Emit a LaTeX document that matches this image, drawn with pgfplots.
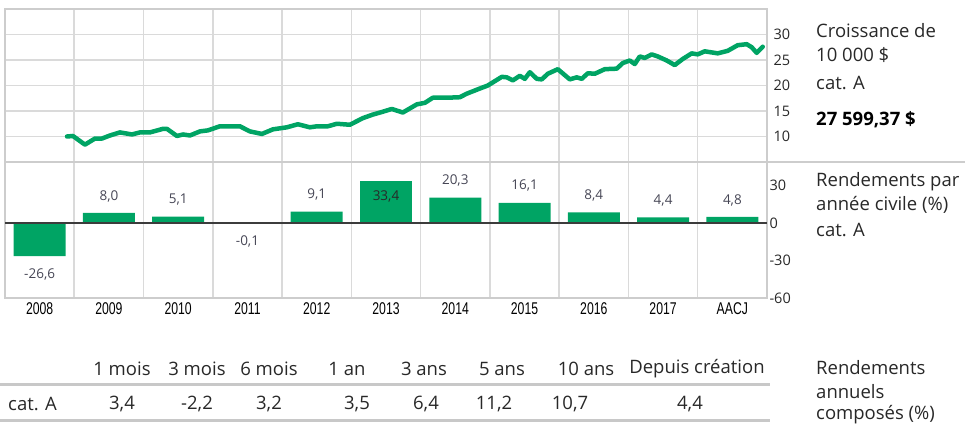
\documentclass[border=0pt]{standalone}
\usepackage{fontspec}
\usepackage{pgfplots}
\pgfplotsset{compat=1.18}
\setmainfont{Open Sans}
\newfontfamily\narrowfont[FakeStretch=0.72]{Liberation Sans}
\definecolor{ubsgreen}{RGB}{0,164,100}
\definecolor{gridgray}{RGB}{218,218,218}
\definecolor{bordergray}{RGB}{205,205,205}
\definecolor{zerogray}{RGB}{60,60,60}
\definecolor{textgray}{RGB}{40,40,40}
\definecolor{labgray}{RGB}{70,70,85}
\definecolor{linegray}{RGB}{200,200,200}
\newcommand\rfont{\fontsize{18.5}{22}\selectfont}
\newcommand\ticklab{\fontsize{14.5}{16}\selectfont}
\newcommand\barlab{\fontsize{13.5}{15}\selectfont}
\newcommand\yearlab{\narrowfont\fontsize{17}{19}\selectfont}
\pgfplotstableread{
t v
2008.895 10.0
2008.981 10.1
2009.154 8.4
2009.299 9.6
2009.400 9.6
2009.515 10.2
2009.659 10.8
2009.833 10.4
2009.948 10.8
2010.092 10.8
2010.280 11.5
2010.338 11.5
2010.482 10.1
2010.569 10.4
2010.670 10.2
2010.814 11.0
2010.929 11.2
2011.102 12.0
2011.391 12.0
2011.535 11.0
2011.709 10.5
2011.867 11.4
2012.069 11.8
2012.228 12.4
2012.401 11.8
2012.502 12.0
2012.661 12.0
2012.791 12.5
2012.978 12.3
2013.166 13.6
2013.310 14.3
2013.440 14.8
2013.584 15.4
2013.743 14.7
2013.945 16.3
2014.061 16.6
2014.176 17.6
2014.378 17.6
2014.566 17.7
2014.667 18.4
2014.854 19.4
2014.970 20.0
2015.172 21.7
2015.244 21.6
2015.331 21.0
2015.431 21.9
2015.504 21.3
2015.576 22.6
2015.677 21.3
2015.749 21.2
2015.836 22.3
2015.980 23.2
2016.153 21.2
2016.254 21.6
2016.326 21.3
2016.413 22.4
2016.514 22.3
2016.658 23.2
2016.831 23.3
2016.918 24.4
2017.019 24.9
2017.091 24.2
2017.163 25.7
2017.235 25.4
2017.336 26.1
2017.423 25.7
2017.553 24.9
2017.668 24.0
2017.784 25.2
2017.913 26.3
2018.000 26.1
2018.101 26.7
2018.289 26.3
2018.433 26.8
2018.577 27.9
2018.707 28.1
2018.779 27.5
2018.851 26.4
2018.938 27.6
}\growth
\begin{document}
\begin{tikzpicture}
\useasboundingbox (0,0) rectangle (965pt,425pt);
% top panel: growth of 10 000
\begin{axis}[
  at={(5pt,416pt)}, anchor=north west,
  scale only axis, width=762pt, height=153pt,
  xmin=2008, xmax=2019, ymin=5, ymax=35,
  xtick={2009,...,2018}, xticklabels={},
  ytick={10,15,...,30}, yticklabel pos=right,
  grid=major, major grid style={draw=gridgray, line width=1.6pt},
  axis line style={draw=bordergray, line width=1.6pt},
  major tick length=0pt,
  tick label style={font=\ticklab, text=textgray},
  yticklabel style={anchor=west, xshift=3pt},
  /pgf/number format/assume math mode=true,
]
\addplot[ubsgreen, line width=4.5pt, line join=round, line cap=round] table[x=t, y=v] {\growth};
\end{axis}
% bottom panel: calendar year returns
\begin{axis}[
  at={(5pt,263pt)}, anchor=north west,
  scale only axis, width=762pt, height=136pt,
  xmin=2008, xmax=2019, ymin=-60, ymax=48.8,
  xtick={2009,...,2018}, xticklabels={}, xmajorgrids,
  major grid style={draw=gridgray, line width=1.6pt},
  extra x ticks={2008.5,2009.5,2010.5,2011.5,2012.5,2013.5,2014.5,2015.5,2016.5,2017.5,2018.5},
  extra x tick labels={2008,2009,2010,2011,2012,2013,2014,2015,2016,2017,AACJ},
  extra x tick style={grid=none, major tick length=0pt, tick label style={font=\yearlab, text=black, yshift=-1pt}},
  ytick={-60,-30,0,30}, yticklabel pos=right,
  axis line style={draw=bordergray, line width=1.6pt},
  major tick length=0pt,
  tick label style={font=\ticklab, text=textgray},
  yticklabel style={anchor=west, xshift=-1pt},
  /pgf/number format/assume math mode=true,
  nodes near coords={\pgfmathprintnumber[use comma, fixed, fixed zerofill, precision=1, assume math mode=true]{\pgfplotspointmeta}},
  every node near coord/.append style={font=\barlab, text=labgray, anchor=center},
]
\addplot[ybar, bar width=52pt, bar shift=0pt, fill=ubsgreen, draw=none,
  every node near coord/.append style={yshift=17pt}]
  coordinates {(2009.5,8.0) (2010.5,5.1) (2012.5,9.1) (2014.5,20.3) (2015.5,16.1) (2016.5,8.4) (2017.5,4.4) (2018.5,4.8)};
\addplot[ybar, bar width=52pt, bar shift=0pt, fill=ubsgreen, draw=none,
  every node near coord/.append style={yshift=-18pt}]
  coordinates {(2008.5,-26.6) (2011.5,-0.1)};
\addplot[ybar, bar width=52pt, bar shift=0pt, fill=ubsgreen, draw=none,
  every node near coord/.append style={yshift=-15pt, text=textgray}]
  coordinates {(2013.5,33.4)};
\addplot[zerogray, line width=1.5pt, nodes near coords={}] coordinates {(2008,0) (2019,0)};
\end{axis}
% separators
\draw[bordergray, line width=1.6pt] (767pt,263pt) -- (965pt,263pt);
\draw[bordergray, line width=2.8pt] (5pt,127pt) -- (767pt,127pt);
% right-hand texts
\begin{scope}[every node/.style={anchor=west, inner sep=0pt, text=textgray, font=\rfont}]
\node at (816pt,394pt) {Croissance de};
\node at (816pt,370pt) {10 000 \$};
\node at (816pt,342pt) {cat. A};
\node[font=\rfont\bfseries, text=black] at (816pt,305pt) {27 599,37 \$};
\node at (816pt,243pt) {Rendements par};
\node at (816pt,220pt) {année civile (\%)};
\node at (816pt,195pt) {cat. A};
\node at (816pt,57pt) {Rendements};
\node at (816pt,33pt) {annuels};
\node at (816pt,10pt) {composés (\%)};
\end{scope}
% table of compound returns
\draw[linegray, line width=3pt] (0pt,40pt) -- (770pt,40pt);
\draw[linegray, line width=3pt] (0pt,4pt) -- (770pt,4pt);
\begin{scope}[every node/.style={anchor=center, inner sep=0pt, text=textgray, font=\rfont}]
\node at (122pt,56pt) {1 mois};
\node at (197pt,56pt) {3 mois};
\node at (269pt,56pt) {6 mois};
\node at (347pt,56pt) {1 an};
\node at (424pt,56pt) {3 ans};
\node at (502pt,56pt) {5 ans};
\node at (586pt,56pt) {10 ans};
\node at (697pt,56pt) {Depuis création};
\node[anchor=west] at (8pt,21pt) {cat. A};
\node at (122pt,21pt) {3,4};
\node at (197pt,21pt) {-2,2};
\node at (269pt,21pt) {3,2};
\node at (357pt,21pt) {3,5};
\node at (426pt,21pt) {6,4};
\node at (494pt,21pt) {11,2};
\node at (570pt,21pt) {10,7};
\node at (690pt,21pt) {4,4};
\end{scope}
\end{tikzpicture}
\end{document}
